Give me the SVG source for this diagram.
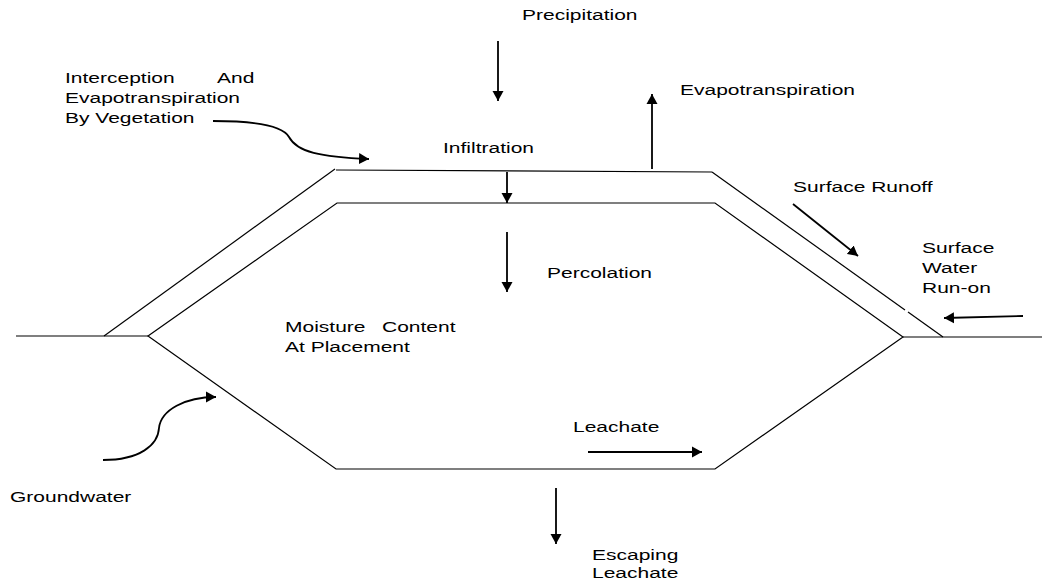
<svg xmlns="http://www.w3.org/2000/svg" width="1042" height="583" viewBox="0 0 1042 583">
<style>
  .t { font-family: "Liberation Sans", Arial, sans-serif; font-size: 15px; fill: #000; }
  .shape { fill: none; stroke: #000; stroke-width: 1.2; }
  .arr { fill: none; stroke: #000; stroke-width: 1.8; marker-end: url(#ah); }
</style>
<defs>
  <marker id="ah" markerUnits="userSpaceOnUse" markerWidth="11" markerHeight="12" refX="10" refY="5.5" orient="auto" viewBox="0 0 11 11">
    <path d="M0,0 L10,5.5 L0,11 z" fill="#000"/>
  </marker>
</defs>
<rect width="1042" height="583" fill="#fff"/>

<g id="landfill">
  <line class="shape" x1="16" y1="336" x2="148" y2="336"/>
  <line class="shape" x1="903" y1="337" x2="1042" y2="337"/>
  <line class="shape" x1="104" y1="336" x2="335" y2="169"/>
  <line class="shape" x1="336" y1="170" x2="712" y2="172"/>
  <line class="shape" x1="712" y1="172" x2="905" y2="310"/>
  <line class="shape" x1="908" y1="312" x2="943" y2="337"/>
  <polygon class="shape" points="148,336 337,203 715,203 903,337 715,469 336,469"/>
</g>

<g id="connectors">
  <line class="arr" x1="498" y1="41" x2="498" y2="101"/>
  <line class="arr" x1="652" y1="169" x2="652" y2="94"/>
  <line class="arr" x1="507" y1="172" x2="507" y2="203"/>
  <line class="arr" x1="507" y1="232" x2="507" y2="292"/>
  <line class="arr" x1="793" y1="204" x2="858" y2="256"/>
  <line class="arr" x1="1023" y1="316" x2="944" y2="318"/>
  <line class="arr" x1="588" y1="452" x2="702" y2="452"/>
  <line class="arr" x1="556" y1="488" x2="556" y2="544"/>
  <path class="arr" d="M213,121 C255,121 283,126 289,137 C297,152 320,157 369,159"/>
  <path class="arr" d="M103,460 C140,460 158,445 159,428 C161,410 185,397 216,397"/>
</g>

<g id="precipitation">
  <text class="t" transform="translate(522,20) scale(1.4,1)">Precipitation</text>
</g>
<g id="interception">
  <text class="t" transform="translate(65,83) scale(1.4,1)"><tspan x="0">Interception</tspan><tspan x="108.6">And</tspan><tspan x="0" dy="20">Evapotranspiration</tspan><tspan x="0" dy="20">By Vegetation</tspan></text>
</g>
<g id="evapotranspiration">
  <text class="t" transform="translate(680,95) scale(1.4,1)">Evapotranspiration</text>
</g>
<g id="infiltration">
  <text class="t" transform="translate(443,153) scale(1.4,1)">Infiltration</text>
</g>
<g id="surface-runoff">
  <text class="t" transform="translate(793,192) scale(1.4,1)">Surface Runoff</text>
</g>
<g id="surface-water-runon">
  <text class="t" transform="translate(922,253) scale(1.4,1)"><tspan x="0">Surface</tspan><tspan x="0" dy="20">Water</tspan><tspan x="0" dy="20">Run-on</tspan></text>
</g>
<g id="percolation">
  <text class="t" transform="translate(547,278) scale(1.4,1)">Percolation</text>
</g>
<g id="moisture">
  <text class="t" transform="translate(285,332) scale(1.4,1)"><tspan x="0">Moisture</tspan><tspan x="69.3">Content</tspan><tspan x="0" dy="20">At Placement</tspan></text>
</g>
<g id="groundwater">
  <text class="t" transform="translate(10,502) scale(1.4,1)">Groundwater</text>
</g>
<g id="leachate">
  <text class="t" transform="translate(573,432) scale(1.4,1)">Leachate</text>
</g>
<g id="escaping-leachate">
  <text class="t" transform="translate(592,560) scale(1.4,1)"><tspan x="0">Escaping</tspan><tspan x="0" dy="18">Leachate</tspan></text>
</g>
</svg>
